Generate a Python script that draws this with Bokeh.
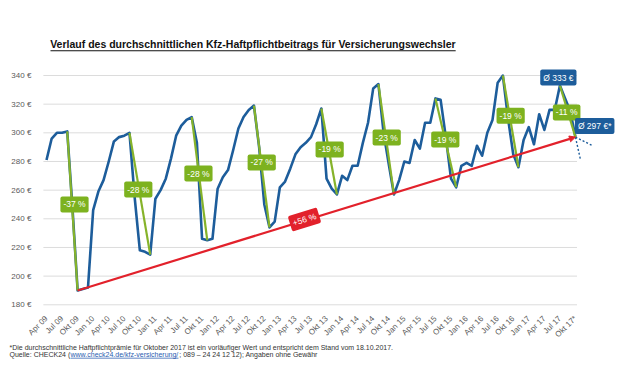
import math
from bokeh.plotting import figure
from bokeh.models import Label, Arrow, NormalHead, FixedTicker, BoxAnnotation, Range1d
from bokeh.embed import file_html
from bokeh.resources import INLINE

# ---------------- data ----------------
tick_labels = ["Apr 09", "Jul 09", "Okt 09",
               "Jan 10", "Apr 10", "Jul 10", "Okt 10",
               "Jan 11", "Apr 11", "Jul 11", "Okt 11",
               "Jan 12", "Apr 12", "Jul 12", "Okt 12",
               "Jan 13", "Apr 13", "Jul 13", "Okt 13",
               "Jan 14", "Apr 14", "Jul 14", "Okt 14",
               "Jan 15", "Apr 15", "Jul 15", "Okt 15",
               "Jan 16", "Apr 16", "Jul 16", "Okt 16",
               "Jan 17", "Apr 17", "Jul 17", "Okt 17*"]

# monthly average premium, Apr 2009 .. Oct 2017 (EUR)
premium = [281, 296, 300, 300, 301, 248, 190, 191, 192, 246,
           259, 267, 280, 294, 297, 298, 300, 255, 218, 217,
           215, 254, 260, 268, 282, 298, 305, 309, 311, 293,
           226, 225, 226, 261, 269, 274, 288, 303, 311, 316,
           319, 290, 250, 234, 238, 262, 266, 275, 285, 290,
           293, 297, 306, 317, 268, 261, 257, 270, 267, 277,
           277, 293, 307, 331, 334, 300, 278, 257, 267, 280,
           279, 295, 289, 307, 307, 324, 323, 297, 268, 262,
           277, 279, 277, 291, 284, 300, 309, 335, 340, 310,
           285, 276, 295, 304, 292, 313, 302, 316, 316, 333,
           324, 315, 297]

peak_idx = [4, 16, 28, 40, 53, 64, 75, 88, 99]
trough_idx = [6, 20, 31, 43, 56, 67, 79, 91, 102]
drop_labels = ["-37 %", "-28 %", "-28 %", "-27 %", "-19 %", "-23 %", "-19 %", "-19 %", "-11 %"]
trend_label = "+56 %"
y_ticks = [180, 200, 220, 240, 260, 280, 300, 320, 340]

title_text = "Verlauf des durchschnittlichen Kfz-Haftpflichtbeitrags für Versicherungswechsler"
note_1 = "*Die durchschnittliche Haftpflichtprämie für Oktober 2017 ist ein vorläufiger Wert und entspricht dem Stand vom 18.10.2017."
note_2a = "Quelle: CHECK24 ("
note_2b = "www.check24.de/kfz-versicherung/"
note_2c = "; 089 – 24 24 12 12); Angaben ohne Gewähr"

# ---------------- styling ----------------
BLUE = "#1d5d9b"
GREEN = "#86b32a"
GREEN_BOX = "#7db21f"
RED = "#e2212b"
GRID = "#dcdcdc"
TXT = "#5a5a5a"
FONT = "Liberation Sans"

x = list(range(len(premium)))
last = len(premium) - 1

# the plotting frame covers the whole canvas; axes are pinned inside it
p = figure(width=621, height=383, output_backend="svg", toolbar_location=None,
           x_range=Range1d(-8.87, 110.875), y_range=Range1d(125.07, 392.34),
           min_border=0)
p.outline_line_color = None
p.xgrid.visible = False
p.ygrid.visible = False

x_left, x_right = -0.6, last + 0.3

# horizontal grid lines (from axis to last month)
p.segment(x0=[x_left] * len(y_ticks), x1=[x_right] * len(y_ticks), y0=y_ticks, y1=y_ticks,
          line_color=GRID, line_width=1)

# axes
p.xaxis.fixed_location = 178.3
p.yaxis.fixed_location = x_left
p.xaxis.ticker = FixedTicker(ticks=list(range(0, len(premium), 3)))
p.xaxis.major_label_overrides = {i * 3: lab for i, lab in enumerate(tick_labels)}
p.xaxis.major_label_orientation = math.pi / 4
p.yaxis.ticker = FixedTicker(ticks=y_ticks)
p.yaxis.major_label_overrides = {v: f"{v} €" for v in y_ticks}
for ax in (p.xaxis[0], p.yaxis[0]):
    ax.axis_line_color = None
    ax.major_tick_line_color = None
    ax.minor_tick_line_color = None
    ax.major_label_text_font = FONT
    ax.major_label_text_font_size = "8px"
    ax.major_label_text_color = TXT
p.xaxis.major_label_standoff = 4
p.yaxis.major_label_standoff = 6

# main series
p.line(x, premium, line_color=BLUE, line_width=2.6, line_join="round")

# forecast hint (dashed)
p.segment(x0=[last, last], y0=[premium[last]] * 2, x1=[last + 3.2, last + 1.0],
          y1=[premium[last] - 5.8, premium[last] - 16.3],
          line_color=BLUE, line_width=1.4, line_dash="2 2")

# green drop lines
p.segment(x0=peak_idx, y0=[premium[i] for i in peak_idx],
          x1=trough_idx, y1=[premium[i] for i in trough_idx],
          line_color=GREEN, line_width=2.2)

# red trend arrow from first trough to last value
p.add_layout(Arrow(end=NormalHead(size=6, fill_color=RED, line_color=RED),
                   x_start=trough_idx[0], y_start=premium[trough_idx[0]],
                   x_end=last, y_end=premium[last], line_color=RED, line_width=2.2))

# drop labels
drop_pos = [(5.4, 250), (17.7, 260.4), (29.3, 271.6), (41.5, 279.3), (54.6, 288.4),
            (65.6, 296.7), (76.9, 295.3), (89.5, 312), (100.3, 314.2)]
for (lx, ly), t in zip(drop_pos, drop_labels):
    p.add_layout(Label(x=lx, y=ly, text=t, text_align="center", text_baseline="middle",
                       text_color="white", text_font=FONT, text_font_size="8.5px",
                       background_fill_color=GREEN_BOX, padding=3, border_radius=2))

p.add_layout(Label(x=49.75, y=239.5, text=trend_label, angle=0.303, text_align="center",
                   text_baseline="middle", text_color="white", text_font=FONT,
                   text_font_size="8.5px", background_fill_color=RED, padding=3, border_radius=2))

# value boxes
p.add_layout(Label(x=98.7, y=338.6, text=f"Ø {premium[99]} €", text_align="center",
                   text_baseline="middle", text_color="white", text_font=FONT,
                   text_font_size="8.5px", background_fill_color=BLUE, padding=3, border_radius=2))
p.add_layout(Label(x=105.7, y=304.8, text=f"Ø {premium[last]} €*", text_align="center",
                   text_baseline="middle", text_color="white", text_font=FONT,
                   text_font_size="8.5px", background_fill_color=BLUE, padding=3, border_radius=2))

# title with underline
p.add_layout(Label(x=39.81, y=362.3, text=title_text,
                   text_align="center", text_baseline="middle", text_color="#111111",
                   text_font=FONT, text_font_style="bold", text_font_size="10.5px"))
p.add_layout(BoxAnnotation(left=0.77, right=78.9, bottom=357.0, top=357.7,
                           fill_color="#111111", fill_alpha=1, line_color=None))

# footnotes
FN = "7px"
p.add_layout(Label(x=-7.13, y=150.2, text=note_1,
                   text_baseline="middle", text_color="#333333", text_font=FONT, text_font_size=FN))
p.add_layout(Label(x=-7.13, y=145.0, text=note_2a,
                   text_baseline="middle", text_color="#333333", text_font=FONT, text_font_size=FN))
p.add_layout(Label(x=4.63, y=145.0, text=note_2b,
                   text_baseline="middle", text_color="#2a5db0", text_font=FONT, text_font_size=FN))
p.add_layout(BoxAnnotation(left=4.68, right=25.45, bottom=142.6, top=143.0,
                           fill_color="#2a5db0", fill_alpha=1, line_color=None))
p.add_layout(Label(x=25.6, y=145.0, text=note_2c,
                   text_baseline="middle", text_color="#333333", text_font=FONT, text_font_size=FN))

open("out.html", "w").write(file_html(p, INLINE))
